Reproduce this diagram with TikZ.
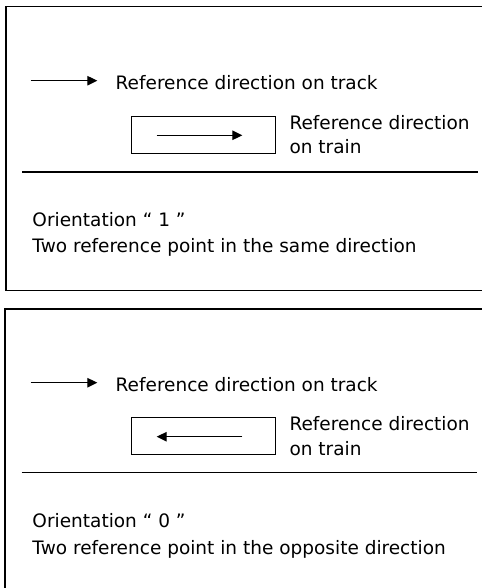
\documentclass[tikz,border=0pt]{standalone}
\usepackage{fontspec}
\setmainfont{DejaVu Sans}
\usetikzlibrary{arrows.meta}
\tikzset{
  frameline/.style={line width=1.2bp, black},
  ruleline/.style={line width=1.1bp, black},
  trainbox/.style={draw, line width=1bp, minimum width=144bp, minimum height=37bp, inner sep=0pt},
  dirarrow/.style={line width=1.1bp, -{Triangle[length=10bp,width=9.5bp]}},
  lbl/.style={anchor=base west, inner sep=0pt, font=\fontsize{18.5bp}{24.7bp}\selectfont},
}
\begin{document}
\begin{tikzpicture}[x=1bp,y=-1bp]
\useasboundingbox (0,0) rectangle (482,588);
% ---------- top panel ----------
\draw[frameline] (482,6.5) -- (6,6.5) -- (6,290.5) -- (482,290.5);
\coordinate (t1a) at (30.7,80.7);
\coordinate (t1b) at (97.3,80.7);
\draw[dirarrow] (t1a) -- (t1b);
\node[lbl] (track1) at (115.5,89.3) {Reference direction on track};
\node[trainbox] (box1) at (203.8,135.3) {};
\coordinate (a1a) at (156.7,135.3);
\coordinate (a1b) at (242.3,135.3);
\draw[dirarrow] (a1a) -- (a1b);
\node[lbl] (train1a) at (289.3,129.3) {Reference direction};
\node[lbl] (train1b) at (289.3,154) {on train};
\coordinate (r1a) at (22.3,172);
\coordinate (r1b) at (478.3,172);
\draw[ruleline] (r1a) -- (r1b);
\node[lbl] (orient1) at (32.3,226) {Orientation “ 1 ”};
\node[lbl] (desc1) at (32.3,252) {Two reference point in the same direction};
% ---------- bottom panel ----------
\draw[frameline] (482,309) -- (5,309) -- (5,590);
\coordinate (t2a) at (30.7,382.7);
\coordinate (t2b) at (97.3,382.7);
\draw[dirarrow] (t2a) -- (t2b);
\node[lbl] (track2) at (115.5,391.7) {Reference direction on track};
\node[trainbox] (box2) at (203.2,436.2) {};
\coordinate (a2a) at (242.3,436.7);
\coordinate (a2b) at (156.7,436.7);
\draw[dirarrow] (a2a) -- (a2b);
\node[lbl] (train2a) at (289.3,430.5) {Reference direction};
\node[lbl] (train2b) at (289.3,455.5) {on train};
\coordinate (r2a) at (21.7,472.7);
\coordinate (r2b) at (477.3,472.7);
\draw[ruleline] (r2a) -- (r2b);
\node[lbl] (orient2) at (32.3,527.5) {Orientation “ 0 ”};
\node[lbl] (desc2) at (32.3,554) {Two reference point in the opposite direction};
\end{tikzpicture}
\end{document}
